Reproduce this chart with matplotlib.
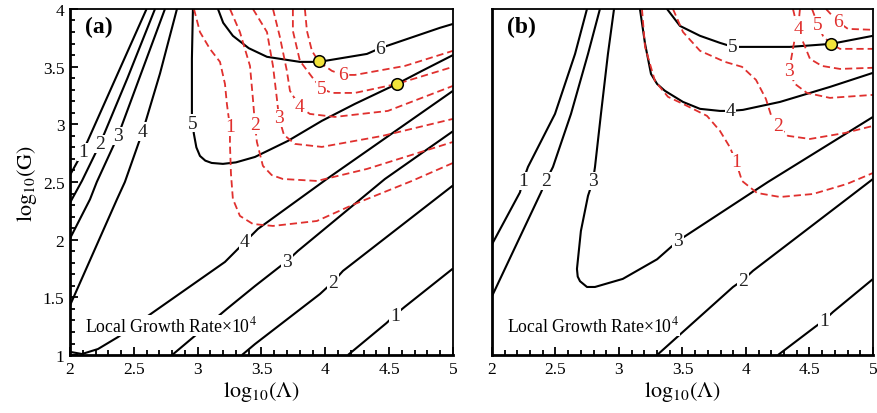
import matplotlib
matplotlib.use("Agg")
import matplotlib.pyplot as plt
from matplotlib.ticker import MultipleLocator

plt.rcParams["font.family"] = ["Liberation Serif", "DejaVu Serif"]
plt.rcParams["mathtext.fontset"] = "stix"

RED = "#e0302e"

# ---- panel (a): black contours (growth rate), (x, y) in log10 units
a_k1 = [(2.0, 2.56), (2.10, 2.76), (2.35, 3.38), (2.60, 4.0)]
a_k2 = [(2.0, 2.32), (2.094, 2.51), (2.235, 2.83), (2.45, 3.40), (2.666, 4.0)]
a_k3 = [(2.0, 2.01), (2.157, 2.35), (2.21, 2.50), (2.376, 2.90), (2.55, 3.42), (2.744, 4.0)]
a_k4 = [(2.0, 1.43), (2.196, 1.92), (2.368, 2.35), (2.43, 2.50), (2.57, 2.94),
        (2.705, 3.44), (2.838, 4.0)]
a_k5 = [(2.963, 4.0), (2.955, 3.567), (2.955, 3.09), (2.963, 3.0), (2.97, 2.92),
        (2.99, 2.80), (3.018, 2.726), (3.06, 2.685), (3.11, 2.665), (3.198, 2.657),
        (3.30, 2.67), (3.449, 2.717), (3.707, 2.856), (3.973, 3.03), (4.232, 3.177),
        (4.561, 3.35), (4.757, 3.463), (5.0, 3.60)]
a_k6 = [(3.159, 4.0), (3.20, 3.88), (3.276, 3.767), (3.40, 3.66), (3.543, 3.585),
        (3.801, 3.541), (3.95, 3.541), (4.326, 3.61), (4.43, 3.66), (4.897, 3.836),
        (5.0, 3.87)]
a_k4b = [(2.008, 1.026), (2.094, 1.009), (2.219, 1.052), (2.376, 1.156), (2.666, 1.382),
         (3.214, 1.807), (3.37, 1.98), (3.472, 2.093), (4.012, 2.526), (5.0, 3.29)]
a_k3b = [(2.80, 1.0), (3.229, 1.40), (3.449, 1.598), (3.70, 1.815), (3.785, 1.902),
         (4.467, 2.526), (5.0, 2.94)]
a_k2b = [(3.347, 1.0), (3.449, 1.095), (3.958, 1.529), (4.06, 1.633), (4.138, 1.729),
         (5.0, 2.47)]
a_k1b = [(4.177, 1.0), (4.48, 1.278), (4.545, 1.347), (4.62, 1.416), (5.0, 1.75)]

# ---- panel (a): red dashed contours
a_r1 = [(2.971, 4.0), (3.018, 3.80), (3.096, 3.654), (3.175, 3.541), (3.214, 3.35),
        (3.229, 3.177), (3.253, 2.977), (3.253, 2.83), (3.261, 2.57), (3.276, 2.353),
        (3.331, 2.206), (3.433, 2.136), (3.59, 2.119), (3.934, 2.162), (4.232, 2.31),
        (4.678, 2.509), (5.0, 2.665)]
a_r2 = [(3.253, 4.0), (3.331, 3.80), (3.41, 3.506), (3.433, 3.22), (3.449, 3.0),
        (3.464, 2.847), (3.511, 2.64), (3.58, 2.56), (3.668, 2.526), (3.934, 2.509),
        (4.326, 2.613), (5.0, 2.847)]
a_r3 = [(3.433, 4.0), (3.543, 3.80), (3.59, 3.506), (3.621, 3.22), (3.637, 3.056),
        (3.676, 2.908), (3.762, 2.83), (3.973, 2.804), (4.45, 2.90), (5.0, 3.047)]
a_r4 = [(3.59, 4.0), (3.644, 3.758), (3.699, 3.463), (3.723, 3.29), (3.801, 3.151),
        (3.879, 3.09), (4.075, 3.064), (4.49, 3.116), (5.0, 3.333)]
a_r5 = [(3.746, 4.0), (3.746, 3.81), (3.801, 3.55), (3.895, 3.411), (3.973, 3.307),
        (4.052, 3.272), (4.232, 3.272), (4.561, 3.35), (5.0, 3.498)]
a_r6 = [(3.84, 4.0), (3.856, 3.81), (3.895, 3.637), (3.95, 3.541), (4.052, 3.463),
        (4.138, 3.428), (4.232, 3.428), (4.623, 3.506), (5.0, 3.637)]

# ---- panel (b): black contours
b_k1 = [(2.748, 4.0), (2.654, 3.61), (2.496, 3.09), (2.283, 2.63), (2.244, 2.51),
        (2.22, 2.41), (2.0, 1.96)]
b_k2 = [(2.85, 4.0), (2.756, 3.61), (2.622, 3.09), (2.48, 2.63), (2.425, 2.51),
        (2.386, 2.41), (2.0, 1.51)]
b_k3 = [(2.961, 4.0), (2.913, 3.61), (2.858, 3.09), (2.811, 2.63), (2.795, 2.51),
        (2.756, 2.38), (2.70, 2.075), (2.669, 1.746), (2.675, 1.68), (2.693, 1.64),
        (2.748, 1.59), (2.811, 1.59), (3.03, 1.66), (3.30, 1.83), (3.465, 1.99),
        (3.583, 2.075), (4.173, 2.50), (5.0, 3.064)]
b_k2b = [(3.30, 1.0), (3.898, 1.59), (3.976, 1.65), (4.055, 1.73), (4.795, 2.353),
         (5.0, 2.526)]
b_k1b = [(4.252, 1.0), (4.543, 1.243), (4.614, 1.30), (4.685, 1.373), (5.0, 1.659)]
b_k4 = [(3.165, 4.0), (3.205, 3.70), (3.252, 3.437), (3.30, 3.35), (3.362, 3.29),
        (3.504, 3.194), (3.638, 3.134), (3.795, 3.116), (3.88, 3.116), (3.976, 3.125),
        (4.268, 3.194), (4.661, 3.324), (5.0, 3.446)]
b_k5 = [(3.378, 4.0), (3.48, 3.853), (3.638, 3.767), (3.795, 3.706), (3.898, 3.671),
        (3.992, 3.671), (4.346, 3.671), (4.669, 3.697), (5.0, 3.767)]

# ---- panel (b): red dashed contours
b_r1 = [(3.181, 4.0), (3.205, 3.671), (3.283, 3.376), (3.386, 3.238), (3.504, 3.177),
        (3.693, 3.073), (3.795, 2.943), (3.874, 2.80), (3.921, 2.674), (3.969, 2.509),
        (4.087, 2.405), (4.268, 2.37), (4.528, 2.396), (4.795, 2.483), (5.0, 2.578)]
b_r2 = [(3.425, 4.0), (3.504, 3.80), (3.638, 3.637), (3.835, 3.541), (3.969, 3.498),
        (4.079, 3.385), (4.157, 3.22), (4.197, 3.08), (4.252, 2.986), (4.33, 2.90),
        (4.504, 2.873), (4.78, 2.925), (5.0, 2.986)]
b_r3 = [(4.37, 4.0), (4.402, 3.853), (4.37, 3.654), (4.339, 3.463), (4.386, 3.35),
        (4.48, 3.272), (4.661, 3.229), (5.0, 3.255)]
b_r4 = [(4.425, 4.0), (4.41, 3.827), (4.449, 3.715), (4.504, 3.567), (4.598, 3.506),
        (4.74, 3.48), (5.0, 3.49)]
b_r5 = [(4.52, 4.0), (4.567, 3.862), (4.606, 3.767), (4.669, 3.697), (4.74, 3.654),
        (5.0, 3.654)]
b_r6 = [(4.63, 4.0), (4.724, 3.888), (4.803, 3.827), (5.0, 3.819)]

# contour labels: (x, y, text)
a_black_labels = [(2.10, 2.76, "1"), (2.235, 2.83, "2"), (2.376, 2.90, "3"),
                  (2.57, 2.94, "4"), (2.963, 3.01, "5"), (4.43, 3.66, "6"),
                  (3.37, 1.98, "4"), (3.70, 1.815, "3"), (4.06, 1.633, "2"),
                  (4.545, 1.347, "1")]
a_red_labels = [(3.253, 2.977, "1"), (3.449, 3.0, "2"), (3.637, 3.056, "3"),
                (3.801, 3.151, "4"), (3.973, 3.307, "5"), (4.138, 3.428, "6")]
b_black_labels = [(2.244, 2.51, "1"), (2.425, 2.51, "2"), (2.795, 2.51, "3"),
                  (3.465, 1.99, "3"), (3.976, 1.65, "2"), (4.614, 1.30, "1"),
                  (3.88, 3.116, "4"), (3.898, 3.671, "5")]
b_red_labels = [(3.921, 2.674, "1"), (4.252, 2.986, "2"), (4.339, 3.463, "3"),
                (4.41, 3.827, "4"), (4.567, 3.862, "5"), (4.724, 3.888, "6")]

a_dots = [(3.95, 3.545), (4.561, 3.35)]
b_dots = [(4.669, 3.70)]


def draw_line(ax, pts, color, dashed=False):
    xs = [p[0] for p in pts]
    ys = [p[1] for p in pts]
    if dashed:
        ax.plot(xs, ys, color=color, lw=1.3, ls=(0, (4, 2.2)), zorder=2)
    else:
        ax.plot(xs, ys, color=color, lw=1.5, zorder=2, solid_capstyle="butt")


def draw_labels(ax, labels, color):
    for x, y, t in labels:
        ax.text(x, y, t, color=color, fontsize=14, ha="center", va="center", zorder=3,
                bbox=dict(facecolor="white", edgecolor="none", pad=0.5))


def style_axes(ax, show_y):
    ax.set_xlim(2, 5)
    ax.set_ylim(1, 4)
    ax.xaxis.set_major_locator(MultipleLocator(0.5))
    ax.xaxis.set_minor_locator(MultipleLocator(0.1))
    ax.yaxis.set_major_locator(MultipleLocator(0.5))
    ax.yaxis.set_minor_locator(MultipleLocator(0.1))
    ax.xaxis.set_major_formatter(plt.FuncFormatter(lambda v, p: f"{v:g}"))
    ax.yaxis.set_major_formatter(plt.FuncFormatter(lambda v, p: f"{v:g}"))
    ax.tick_params(which="both", direction="in", top=False, right=False,
                   labelsize=12.5, width=1.3, pad=4)
    ax.tick_params(which="major", length=6)
    ax.tick_params(which="minor", length=3.5)
    if not show_y:
        ax.tick_params(axis="y", which="both", left=False, labelleft=False)
    for side in ("left", "bottom"):
        ax.spines[side].set_linewidth(2.0)
    for side in ("top", "right"):
        ax.spines[side].set_linewidth(1.3)
    ax.set_xlabel(r"$\mathrm{log}_{10}(\Lambda)$", fontsize=16, labelpad=2)
    ax.text(0.04, 0.085, "Local Growth Rate×10$^{4}$", transform=ax.transAxes,
            fontsize=12.8, ha="left", va="center", zorder=3,
            bbox=dict(facecolor="white", edgecolor="none", pad=0.5))


fig = plt.figure(figsize=(8.77, 4.14), dpi=100)
ax_a = fig.add_axes([0.0798, 0.140, 0.4367, 0.836])
ax_b = fig.add_axes([0.561, 0.140, 0.4344, 0.836])

for pts in (a_k1, a_k2, a_k3, a_k4, a_k5, a_k6, a_k4b, a_k3b, a_k2b, a_k1b):
    draw_line(ax_a, pts, "black")
for pts in (a_r1, a_r2, a_r3, a_r4, a_r5, a_r6):
    draw_line(ax_a, pts, RED, dashed=True)
draw_labels(ax_a, a_black_labels, "#222222")
draw_labels(ax_a, a_red_labels, RED)
ax_a.scatter([d[0] for d in a_dots], [d[1] for d in a_dots], s=70, c="#f2e33a",
             edgecolors="black", linewidths=1.1, zorder=4)

for pts in (b_k1, b_k2, b_k3, b_k2b, b_k1b, b_k4, b_k5):
    draw_line(ax_b, pts, "black")
for pts in (b_r1, b_r2, b_r3, b_r4, b_r5, b_r6):
    draw_line(ax_b, pts, RED, dashed=True)
draw_labels(ax_b, b_black_labels, "#222222")
draw_labels(ax_b, b_red_labels, RED)
ax_b.scatter([d[0] for d in b_dots], [d[1] for d in b_dots], s=70, c="#f2e33a",
             edgecolors="black", linewidths=1.1, zorder=4)

style_axes(ax_a, True)
style_axes(ax_b, False)
ax_a.set_ylabel(r"$\mathrm{log}_{10}\mathrm{(G)}$", fontsize=16, labelpad=3)

ax_a.text(0.04, 0.948, "(a)", transform=ax_a.transAxes, fontsize=17,
          fontweight="bold", ha="left", va="center")
ax_b.text(0.04, 0.948, "(b)", transform=ax_b.transAxes, fontsize=17,
          fontweight="bold", ha="left", va="center")

fig.savefig("out.png", dpi=100)
